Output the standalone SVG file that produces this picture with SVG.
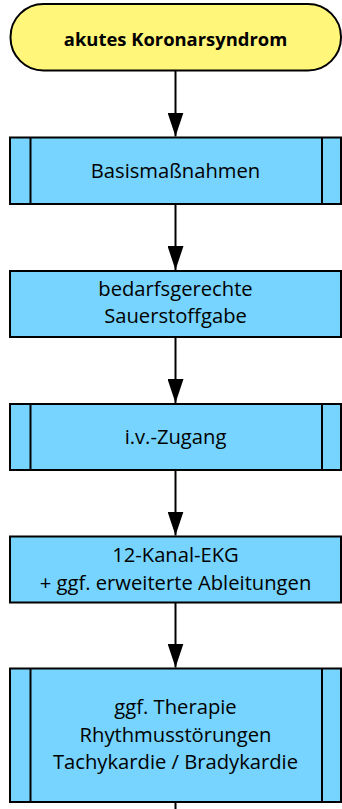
<svg xmlns="http://www.w3.org/2000/svg" width="342" height="809" viewBox="0 0 342 809">
  <defs>
    <marker id="arrow" markerWidth="24" markerHeight="16" refX="24" refY="8" orient="auto" markerUnits="userSpaceOnUse" viewBox="0 0 24 16">
      <path d="M0,0 L24,8 L0,16 Z" fill="#000"/>
    </marker>
    <style>
      .term { fill: #FFF67A; stroke: #000; stroke-width: 2; }
      .box { fill: #76D4FE; stroke: #000; stroke-width: 2; }
      .bar { stroke: #000; stroke-width: 2; fill: none; }
      .conn { stroke: #000; stroke-width: 2; fill: none; }
      text { font-family: "Open Sans", "Liberation Sans", sans-serif; font-size: 20.2px; fill: #000; text-anchor: middle; }
      .title { font-weight: bold; font-size: 18.4px; }
    </style>
  </defs>

  <!-- start terminal -->
  <g id="start">
    <rect class="term" x="10.5" y="4" width="330.5" height="66.5" rx="33" ry="33"/>
    <text class="title" x="175.5" y="45.5">akutes Koronarsyndrom</text>
  </g>

  <!-- predefined process: basic measures -->
  <g id="basis">
    <rect class="box" x="10" y="137.5" width="331" height="66.5"/>
    <line class="bar" x1="30.5" y1="137.5" x2="30.5" y2="204"/>
    <line class="bar" x1="322" y1="137.5" x2="322" y2="204"/>
    <text x="175.5" y="177.5">Basismaßnahmen</text>
  </g>

  <!-- process: oxygen -->
  <g id="sauerstoff">
    <rect class="box" x="10" y="271" width="331" height="66"/>
    <text x="175.5" y="295.5">bedarfsgerechte</text>
    <text x="175.5" y="322.5">Sauerstoffgabe</text>
  </g>

  <!-- predefined process: IV access -->
  <g id="zugang">
    <rect class="box" x="10" y="404" width="331" height="66"/>
    <line class="bar" x1="30.5" y1="404" x2="30.5" y2="470"/>
    <line class="bar" x1="322" y1="404" x2="322" y2="470"/>
    <text x="175.5" y="443.5">i.v.-Zugang</text>
  </g>

  <!-- process: ECG -->
  <g id="ekg">
    <rect class="box" x="10" y="536.5" width="331" height="66"/>
    <text x="175.5" y="561.5">12-Kanal-EKG</text>
    <text x="175.5" y="589.5">+ ggf. erweiterte Ableitungen</text>
  </g>

  <!-- predefined process: arrhythmia therapy -->
  <g id="therapie">
    <rect class="box" x="10" y="668.5" width="331" height="133.5"/>
    <line class="bar" x1="30.5" y1="668.5" x2="30.5" y2="802"/>
    <line class="bar" x1="322" y1="668.5" x2="322" y2="802"/>
    <text x="175.5" y="714">ggf. Therapie</text>
    <text x="175.5" y="741.5">Rhythmusstörungen</text>
    <text x="175.5" y="769">Tachykardie / Bradykardie</text>
  </g>

  <!-- connectors -->
  <g id="connectors">
    <line class="conn" x1="175.5" y1="70.5" x2="175.5" y2="136.5" marker-end="url(#arrow)"/>
    <line class="conn" x1="175.5" y1="204" x2="175.5" y2="270" marker-end="url(#arrow)"/>
    <line class="conn" x1="175.5" y1="337" x2="175.5" y2="403" marker-end="url(#arrow)"/>
    <line class="conn" x1="175.5" y1="470" x2="175.5" y2="535.5" marker-end="url(#arrow)"/>
    <line class="conn" x1="175.5" y1="602.5" x2="175.5" y2="667.5" marker-end="url(#arrow)"/>
    <line class="conn" x1="175.5" y1="802" x2="175.5" y2="809"/>
  </g>
</svg>
